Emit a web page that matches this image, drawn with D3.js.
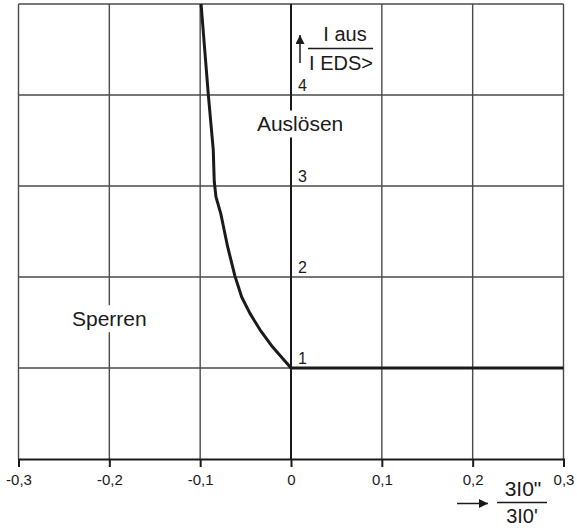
<!DOCTYPE html>
<html>
<head>
<meta charset="utf-8">
<script src="https://cdn.jsdelivr.net/npm/d3@7"></script>
<style>
  html, body { margin: 0; padding: 0; background: #fff; }
  svg { display: block; }
  text { font-family: "Liberation Sans", Arial, Helvetica, sans-serif; fill: #1a1a1a; }
</style>
</head>
<body>
<svg id="chart" width="577" height="528"></svg>
<script>
// Axis ticks and labels
const xTicks = [-0.3, -0.2, -0.1, 0, 0.1, 0.2, 0.3];
const xTickLabels = ["-0,3", "-0,2", "-0,1", "0", "0,1", "0,2", "0,3"];
const yGrid = [1, 2, 3, 4, 5];
const yTicks = [1, 2, 3, 4];
const yTickLabels = ["1", "2", "3", "4"];

// Tripping characteristic: left branch (curve) and right branch (plateau)
const curveX = [-0.099, -0.095, -0.091, -0.0856, -0.0845, -0.0826, -0.0774, -0.0697, -0.0617, -0.0543, -0.0452, -0.0341, -0.0202, 0];
const curveY = [5, 4.5, 4.0, 3.4, 3.05, 2.88, 2.70, 2.33, 2.01, 1.78, 1.60, 1.42, 1.23, 1];
const plateauX = [0, 0.3];
const plateauY = [1, 1];

// Region labels
const regionLabels = [
  { text: "Sperren", x: -0.2, y: 1.52 },
  { text: "Auslösen", x: 0.01, y: 3.66 }
];

const svg = d3.select("#chart");
const x = d3.scaleLinear().domain([-0.3, 0.3]).range([18.5, 563.5]);
const y = d3.scaleLinear().domain([0, 5]).range([459, 4]);

const gridColor = "#4a4a4a";

// Vertical grid lines
svg.append("g").selectAll("line").data(xTicks).join("line")
  .attr("x1", d => x(d)).attr("x2", d => x(d))
  .attr("y1", y(5)).attr("y2", y(0))
  .attr("stroke", gridColor).attr("stroke-width", 1.4);

// Horizontal grid lines
svg.append("g").selectAll("line").data(yGrid).join("line")
  .attr("x1", x(-0.3)).attr("x2", x(0.3))
  .attr("y1", d => y(d)).attr("y2", d => y(d))
  .attr("stroke", gridColor).attr("stroke-width", 1.4);

// Vertical axis through zero
svg.append("line")
  .attr("x1", x(0)).attr("x2", x(0))
  .attr("y1", y(5)).attr("y2", y(0))
  .attr("stroke", "#1a1a1a").attr("stroke-width", 2);

// Bottom axis
const xAxis = d3.axisBottom(x)
  .tickValues(xTicks)
  .tickFormat((d, i) => xTickLabels[i])
  .tickSize(8)
  .tickPadding(7);
const gx = svg.append("g").attr("transform", `translate(0,${y(0)})`).call(xAxis);
gx.select(".domain").attr("stroke", "#1a1a1a").attr("stroke-width", 2);
gx.selectAll(".tick line").attr("stroke", "#1a1a1a").attr("stroke-width", 2);
gx.selectAll(".tick text")
  .style("font-size", "15px")
  .style("font-family", "'Liberation Sans', Arial, sans-serif")
  .style("fill", "#1a1a1a");

// Y tick labels placed beside the zero axis
svg.append("g").selectAll("text").data(yTicks).join("text")
  .attr("x", x(0) + 7)
  .attr("y", d => y(d) - 4)
  .style("font-size", "16px")
  .text((d, i) => yTickLabels[i]);

// Region labels with white backing
regionLabels.forEach(l => {
  const g = svg.append("g");
  const t = g.append("text")
    .attr("x", x(l.x)).attr("y", y(l.y))
    .style("font-size", "21px")
    .attr("text-anchor", "middle")
    .attr("dominant-baseline", "middle")
    .text(l.text);
  const bb = t.node().getBBox();
  g.insert("rect", "text")
    .attr("x", bb.x - 3).attr("y", bb.y - 2)
    .attr("width", bb.width + 6).attr("height", bb.height + 4)
    .attr("fill", "#fff");
});

// Characteristic lines
const line = d3.line().x(d => x(d[0])).y(d => y(d[1]));
svg.append("path")
  .datum(curveX.map((v, i) => [v, curveY[i]]))
  .attr("d", line)
  .attr("fill", "none").attr("stroke", "#1a1a1a").attr("stroke-width", 3)
  .attr("stroke-linejoin", "round");
svg.append("path")
  .datum(plateauX.map((v, i) => [v, plateauY[i]]))
  .attr("d", line)
  .attr("fill", "none").attr("stroke", "#1a1a1a").attr("stroke-width", 3.2);

// Arrow marker
const defs = svg.append("defs");
defs.append("marker")
  .attr("id", "arrowhead")
  .attr("viewBox", "0 0 10 10")
  .attr("refX", 10).attr("refY", 5)
  .attr("markerUnits", "userSpaceOnUse")
  .attr("markerWidth", 11).attr("markerHeight", 9)
  .attr("orient", "auto")
  .append("path").attr("d", "M0,0 L10,5 L0,10 Z").attr("fill", "#1a1a1a");

// Y axis title: arrow and fraction I aus / I EDS>
svg.append("line")
  .attr("x1", 300).attr("y1", 63).attr("x2", 300).attr("y2", 35)
  .attr("stroke", "#1a1a1a").attr("stroke-width", 1.5)
  .attr("marker-end", "url(#arrowhead)");
svg.append("text").attr("x", 345).attr("y", 41).style("font-size", "20px")
  .attr("text-anchor", "middle").text("I aus");
svg.append("line").attr("x1", 308).attr("x2", 373).attr("y1", 48.5).attr("y2", 48.5)
  .attr("stroke", "#1a1a1a").attr("stroke-width", 1.3);
svg.append("text").attr("x", 341).attr("y", 70).style("font-size", "20px")
  .attr("text-anchor", "middle").text("I EDS>");

// X axis title: arrow and fraction 3I0" / 3I0'
svg.append("line")
  .attr("x1", 457).attr("y1", 503.5).attr("x2", 488).attr("y2", 503.5)
  .attr("stroke", "#1a1a1a").attr("stroke-width", 1.5)
  .attr("marker-end", "url(#arrowhead)");
svg.append("text").attr("x", 523).attr("y", 496).style("font-size", "21px")
  .attr("text-anchor", "middle").text("3I0\"");
svg.append("line").attr("x1", 497).attr("x2", 547).attr("y1", 502.5).attr("y2", 502.5)
  .attr("stroke", "#1a1a1a").attr("stroke-width", 1.3);
svg.append("text").attr("x", 522).attr("y", 523).style("font-size", "20px")
  .attr("text-anchor", "middle").text("3I0'");
</script>
</body>
</html>
